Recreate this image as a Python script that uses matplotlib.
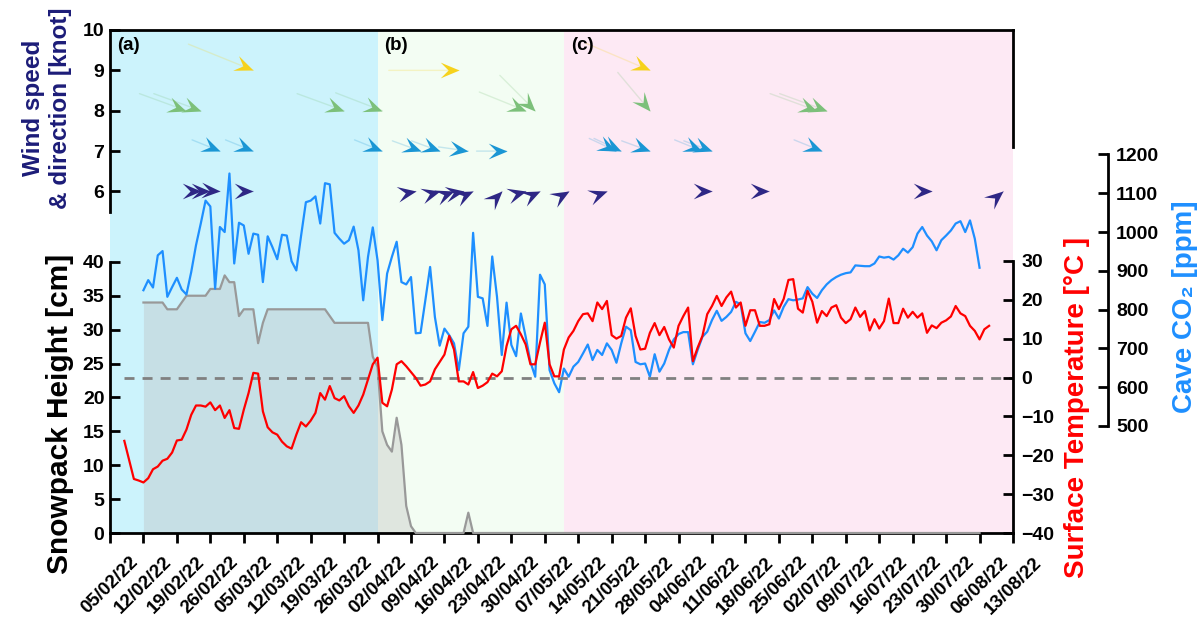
import numpy as np
import pandas as pd
import matplotlib
matplotlib.use('Agg')
import matplotlib.pyplot as plt
import matplotlib.dates as mdates
from matplotlib.markers import MarkerStyle
from matplotlib.transforms import Affine2D

plt.rcParams['font.family'] = ['Liberation Sans', 'DejaVu Sans']
plt.rcParams['font.weight'] = 'bold'

# ---------------- datos ----------------
inicio_temp = '2022-02-08'
temperatura = [
    -16.3, -21.2, -26.1, -26.5, -27.0, -25.9, -23.6, -22.9, -21.4, -20.9,
    -19.3, -16.2, -16.0, -13.4, -9.6, -7.2, -7.2, -7.5, -6.4, -8.4,
    -7.2, -10.4, -8.4, -13.0, -13.2, -8.3, -4.0, 1.2, 1.0, -8.7,
    -12.8, -14.1, -14.7, -16.5, -17.7, -18.3, -14.7, -11.5, -12.6, -11.1,
    -9.1, -4.0, -5.7, -2.2, -5.3, -5.9, -4.8, -7.4, -9.1, -7.2,
    -4.4, -0.5, 3.4, 5.1, -6.5, -7.4, -3.1, 3.4, 4.2, 2.9,
    1.4, -0.1, -2.1, -1.8, -1.0, 2.1, 4.0, 5.9, 10.7, 7.2,
    -1.0, -1.0, -1.8, 1.4, -2.7, -2.1, -1.2, 1.0, 0.3, 1.6,
    8.1, 12.4, 13.3, 11.1, 8.5, 3.4, 3.4, 9.0, 14.1, 3.4,
    0.3, 0.3, 7.2, 10.3, 12.0, 14.5, 16.3, 16.5, 14.5, 19.3,
    17.6, 19.7, 10.9, 10.0, 10.7, 15.4, 17.8, 10.7, 7.2, 7.4,
    11.5, 14.0, 10.9, 13.0, 9.8, 7.7, 13.3, 15.8, 18.0, 4.2,
    7.7, 10.7, 16.3, 18.4, 21.0, 18.4, 20.6, 22.1, 18.0, 19.3,
    13.3, 17.3, 17.3, 13.3, 13.3, 13.7, 20.2, 17.6, 20.2, 25.1,
    25.3, 17.7, 16.7, 22.3, 19.5, 14.1, 17.1, 15.8, 18.0, 18.6,
    15.4, 14.0, 15.0, 18.0, 15.6, 17.1, 12.1, 15.0, 12.6, 14.5,
    20.3, 14.0, 14.0, 17.7, 15.4, 16.9, 15.4, 16.5, 11.5, 13.4,
    12.7, 14.1, 14.7, 15.7, 18.4, 16.5, 15.8, 13.3, 12.0, 9.8,
    12.4, 13.3]

inicio_cueva = '2022-02-12'
co2 = [
    850, 876, 857, 940, 951, 833, 858, 882, 852, 839,
    897, 966, 1022, 1081, 1066, 854, 1013, 1000, 1151, 919,
    1024, 1017, 944, 996, 993, 871, 989, 961, 930, 993,
    991, 925, 901, 991, 1077, 1081, 1092, 1022, 1126, 1123,
    998, 983, 970, 979, 1014, 953, 824, 936, 1012, 927,
    773, 893, 936, 975,
    871, 865, 884, 739, 740, 824, 910, 781, 707, 751,
    734, 713, 644, 739, 756, 998, 833, 829, 758, 937,
    833, 683, 818, 709, 680, 790, 730, 665, 627, 890,
    865, 644, 610, 587, 648, 627, 653, 665, 687, 710,
    670, 696, 683, 713, 696, 663, 713, 756, 747, 665,
    659, 661, 627, 685, 640, 661, 696,
    723, 737, 742, 742, 659, 696, 730, 743, 773, 797,
    771, 781, 794, 820, 814, 739, 719, 743, 768, 766,
    773, 798, 777, 807, 827, 824, 826, 829, 858, 841,
    830, 850, 865, 876, 884, 890, 894, 896, 914, 913,
    912, 912, 919, 937, 934, 936, 929, 940, 957, 947,
    961, 996, 1013, 991, 976, 953, 979, 991, 1004, 1022,
    1028, 1000, 1030, 983, 908]

nieve = [
    34, 34, 34, 34, 34, 33, 33, 33, 34, 35,
    35, 35, 35, 35, 36, 36, 36, 38, 37, 37,
    32, 33, 33, 33, 28, 31, 33, 33, 33, 33,
    33, 33, 33, 33, 33, 33, 33, 33, 33, 32,
    31, 31, 31, 31, 31, 31, 31, 31, 26, 24.5,
    15, 13, 12, 17, 13, 4, 1, 0, 0, 0,
    0, 0, 0, 0, 0, 0, 0, 0, 3, 0,
    0, 0, 0, 0, 0, 0, 0, 0, 0, 0,
    0, 0, 0, 0, 0, 0, 0, 0, 0, 0,
    0, 0, 0, 0, 0, 0, 0, 0, 0, 0,
    0, 0, 0, 0, 0, 0, 0, 0, 0, 0,
    0, 0, 0, 0, 0, 0, 0, 0, 0, 0,
    0, 0, 0, 0, 0, 0, 0, 0, 0, 0,
    0, 0, 0, 0, 0, 0, 0, 0, 0, 0,
    0, 0, 0, 0, 0, 0, 0, 0, 0, 0,
    0, 0, 0, 0, 0, 0, 0, 0, 0, 0,
    0, 0, 0, 0, 0, 0, 0, 0, 0, 0,
    0, 0, 0, 0, 0, 0]

viento_fechas = [
    '2022-03-07', '2022-04-19', '2022-05-29',
    '2022-02-21', '2022-02-24', '2022-03-26', '2022-04-03', '2022-05-03',
    '2022-05-05', '2022-05-29', '2022-07-03', '2022-07-05',
    '2022-02-28', '2022-03-07', '2022-04-03', '2022-04-11', '2022-04-15',
    '2022-04-21', '2022-04-29', '2022-05-22', '2022-05-23', '2022-05-29',
    '2022-06-09', '2022-06-11', '2022-07-04',
    '2022-02-24', '2022-02-26', '2022-02-28', '2022-03-07', '2022-04-10',
    '2022-04-15', '2022-04-18', '2022-04-20', '2022-04-22', '2022-04-28',
    '2022-05-03', '2022-05-06', '2022-05-12', '2022-05-20', '2022-06-11',
    '2022-06-23', '2022-07-27', '2022-08-11']
viento_vel = [9, 9, 9,
              8, 8, 8, 8, 8, 8, 8, 8, 8,
              7, 7, 7, 7, 7, 7, 7, 7, 7, 7, 7, 7, 7,
              6, 6, 6, 6, 6, 6, 6, 6, 6, 6, 6, 6, 6, 6, 6, 6, 6, 6]
viento_dir = [-22, 0, -23,
              -20, -20, -20, -21, -22, -45, -50, -20, -20,
              -22, -22, -22, -20, -20, -8, 0, -25, -25, -20, -22, -20, -22,
              0, 0, -3, 0, 10, 15, 20, 10, 25, 45, 15, 25, 30, 20, 0, 0, 0, 40]

periodos = ['2022-02-05', '2022-04-02', '2022-05-11', '2022-08-13']
periodo_etiquetas = ['(a)', '(b)', '(c)']
periodo_colores = ['#ccf3fc', '#f3fdf3', '#fde9f4']
colores_viento = {9: '#f6d21c', 8: '#7cc07a', 7: '#1a96d4', 6: '#2e2785'}

fechas_t = pd.date_range(inicio_temp, periods=len(temperatura), freq='D')
fechas_c = pd.date_range(inicio_cueva, periods=len(co2), freq='D')
limites = pd.to_datetime(periodos)
ticks_x = pd.date_range(periodos[0], periodos[-1], freq='7D')

# ---------------- figura ----------------
fig = plt.figure(figsize=(12, 6.21), dpi=100)
pos = [110 / 1200, 88 / 621, 903 / 1200, 503 / 621]
ax = fig.add_axes(pos)

for i in range(3):
    ax.axvspan(limites[i], limites[i + 1], color=periodo_colores[i], lw=0, zorder=0)

ax.fill_between(fechas_c, 0, nieve, color='#bcbcbc', alpha=0.35, lw=0, zorder=1)
ax.plot(fechas_c, nieve, color='#999999', lw=1.6, zorder=3, clip_on=False)
ax.set_xlim(limites[0], limites[-1])
ax.set_ylim(0, 74.2)
ax.set_yticks(np.arange(0, 41, 5))
ax.spines['top'].set_visible(False)
ax.spines['right'].set_visible(False)
ax.spines['left'].set_bounds(0, 40)
for s in ['left', 'bottom']:
    ax.spines[s].set_linewidth(2)
ax.set_xticks(ticks_x)
ax.set_xticklabels([d.strftime('%d/%m/%y') for d in ticks_x], rotation=45, ha='center')
ax.tick_params(axis='x', direction='out', length=7, width=2, labelsize=13.5, pad=8)
ax.tick_params(axis='y', direction='in', length=7, width=2, labelsize=14, pad=4)

# CO2 cueva
axc = ax.twinx()
axc.plot(fechas_c, co2, color='#1e8fff', lw=1.6)
axc.set_ylim(224, 1521)
axc.set_yticks(np.arange(500, 1201, 100))
axc.spines['right'].set_position(('axes', 1.105))
axc.spines['right'].set_bounds(500, 1200)
axc.spines['right'].set_linewidth(2)
for s in ['top', 'left', 'bottom']:
    axc.spines[s].set_visible(False)
axc.tick_params(axis='y', direction='in', length=7, width=2, labelsize=14, pad=6)

# temperatura
axt = ax.twinx()
axt.hlines(0, fechas_t[0], limites[-1], colors='#808080', linestyles=(0, (3.6, 2.9)), lw=2, zorder=1)
axt.plot(fechas_t, temperatura, color='#ff0000', lw=1.6, zorder=2)
axt.set_ylim(-40, 89.4)
axt.set_yticks(np.arange(-40, 31, 10))
axt.spines['right'].set_bounds(-40, 30)
axt.spines['right'].set_linewidth(2)
for s in ['top', 'left', 'bottom']:
    axt.spines[s].set_visible(False)
axt.tick_params(axis='y', direction='in', length=7, width=2, labelsize=14, pad=6)

# viento
axw = fig.add_axes(pos)
axw.patch.set_visible(False)
axw.set_xlim(ax.get_xlim())
axw.set_ylim(-2.46, 10)
axw.set_yticks([6, 7, 8, 9, 10])
axw.xaxis.set_visible(False)
axw.spines['bottom'].set_visible(False)
axw.spines['left'].set_bounds(5.5, 10)
axw.spines['right'].set_bounds(7.1, 10)
for s in ['left', 'top', 'right']:
    axw.spines[s].set_linewidth(2)
axw.tick_params(axis='y', direction='in', length=7, width=2, labelsize=14, pad=4, right=False)

flecha = [(0, 0), (-1, 0.42), (-0.58, 0), (-1, -0.42), (0, 0)]
xv = mdates.date2num(pd.to_datetime(viento_fechas))
for x, v, d in zip(xv, viento_vel, viento_dir):
    c = colores_viento[v]
    largo = 20 * (v - 5.5)
    a = np.deg2rad(d)
    axw.annotate('', xy=(x, v), xytext=(-largo * np.cos(a), -largo * np.sin(a)),
                 textcoords='offset pixels',
                 arrowprops=dict(arrowstyle='-', color=c, alpha=0.22, lw=1, shrinkA=0, shrinkB=0))
    m = MarkerStyle(flecha, transform=Affine2D().rotate_deg(d))
    axw.plot(x, v, marker=m, ms=27, color=c, mew=0, ls='none')

for lim, etq in zip(limites[:3], periodo_etiquetas):
    axw.annotate(etq, xy=(mdates.date2num(lim), 1), xycoords=('data', 'axes fraction'),
                 xytext=(7, -7), textcoords='offset pixels', ha='left', va='top', fontsize=13.5)

# etiquetas de ejes
fig.text(47 / 1200, 1 - 108 / 621, 'Wind speed\n& direction [knot]', rotation=90,
         ha='center', va='center', fontsize=17.5, color='#1c1c78', linespacing=1.2)
fig.text(60 / 1200, 1 - 414 / 621, 'Snowpack Height [cm]', rotation=90,
         ha='center', va='center', fontsize=21.5)
fig.text(1077 / 1200, 1 - 407 / 621, 'Surface Temperature [°C ]', rotation=90,
         ha='center', va='center', fontsize=20, color='#ff0000')
fig.text(1185 / 1200, 1 - 307 / 621, 'Cave CO\u2082 [ppm]', rotation=90,
         ha='center', va='center', fontsize=20, color='#1e8fff')

fig.savefig('out.png', dpi=100)
